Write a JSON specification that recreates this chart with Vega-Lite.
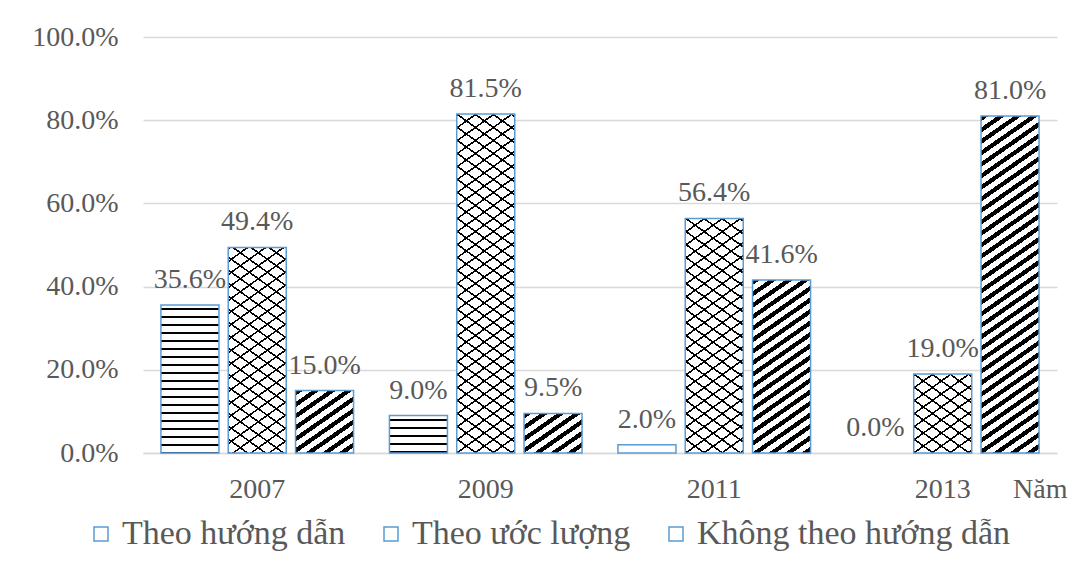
{
  "$schema": "https://vega.github.io/schema/vega-lite/v6.json",
  "width": 914,
  "height": 416,
  "autosize": "none",
  "padding": {"left": 143, "top": 37, "right": 28, "bottom": 119},
  "background": "#ffffff",
  "config": {"view": {"stroke": null}, "font": "Liberation Serif"},
  "params": [
    {"name": "hStops", "value": [
      {"offset":0.01974,"color":"#0000"},{"offset":0.01974,"color":"#000"},{"offset":0.03289,"color":"#000"},{"offset":0.03289,"color":"#0000"},
      {"offset":0.07237,"color":"#0000"},{"offset":0.07237,"color":"#000"},{"offset":0.08553,"color":"#000"},{"offset":0.08553,"color":"#0000"},
      {"offset":0.125,"color":"#0000"},{"offset":0.125,"color":"#000"},{"offset":0.13816,"color":"#000"},{"offset":0.13816,"color":"#0000"},
      {"offset":0.17763,"color":"#0000"},{"offset":0.17763,"color":"#000"},{"offset":0.19079,"color":"#000"},{"offset":0.19079,"color":"#0000"},
      {"offset":0.23026,"color":"#0000"},{"offset":0.23026,"color":"#000"},{"offset":0.24342,"color":"#000"},{"offset":0.24342,"color":"#0000"},
      {"offset":0.28289,"color":"#0000"},{"offset":0.28289,"color":"#000"},{"offset":0.29605,"color":"#000"},{"offset":0.29605,"color":"#0000"},
      {"offset":0.33553,"color":"#0000"},{"offset":0.33553,"color":"#000"},{"offset":0.34868,"color":"#000"},{"offset":0.34868,"color":"#0000"},
      {"offset":0.38816,"color":"#0000"},{"offset":0.38816,"color":"#000"},{"offset":0.40132,"color":"#000"},{"offset":0.40132,"color":"#0000"},
      {"offset":0.44079,"color":"#0000"},{"offset":0.44079,"color":"#000"},{"offset":0.45395,"color":"#000"},{"offset":0.45395,"color":"#0000"},
      {"offset":0.49342,"color":"#0000"},{"offset":0.49342,"color":"#000"},{"offset":0.50658,"color":"#000"},{"offset":0.50658,"color":"#0000"},
      {"offset":0.54605,"color":"#0000"},{"offset":0.54605,"color":"#000"},{"offset":0.55921,"color":"#000"},{"offset":0.55921,"color":"#0000"},
      {"offset":0.59868,"color":"#0000"},{"offset":0.59868,"color":"#000"},{"offset":0.61184,"color":"#000"},{"offset":0.61184,"color":"#0000"},
      {"offset":0.65132,"color":"#0000"},{"offset":0.65132,"color":"#000"},{"offset":0.66447,"color":"#000"},{"offset":0.66447,"color":"#0000"},
      {"offset":0.70395,"color":"#0000"},{"offset":0.70395,"color":"#000"},{"offset":0.71711,"color":"#000"},{"offset":0.71711,"color":"#0000"},
      {"offset":0.75658,"color":"#0000"},{"offset":0.75658,"color":"#000"},{"offset":0.76974,"color":"#000"},{"offset":0.76974,"color":"#0000"},
      {"offset":0.80921,"color":"#0000"},{"offset":0.80921,"color":"#000"},{"offset":0.82237,"color":"#000"},{"offset":0.82237,"color":"#0000"},
      {"offset":0.86184,"color":"#0000"},{"offset":0.86184,"color":"#000"},{"offset":0.875,"color":"#000"},{"offset":0.875,"color":"#0000"},
      {"offset":0.91447,"color":"#0000"},{"offset":0.91447,"color":"#000"},{"offset":0.92763,"color":"#000"},{"offset":0.92763,"color":"#0000"},
      {"offset":0.96711,"color":"#0000"},{"offset":0.96711,"color":"#000"},{"offset":0.98026,"color":"#000"},{"offset":0.98026,"color":"#0000"}
    ]},
    {"name": "dStops", "value": [
      {"offset":0,"color":"#000"},{"offset":0.01324,"color":"#000"},{"offset":0.01324,"color":"#0000"},{"offset":0.02941,"color":"#0000"},
      {"offset":0.02941,"color":"#000"},{"offset":0.04265,"color":"#000"},{"offset":0.04265,"color":"#0000"},{"offset":0.05882,"color":"#0000"},
      {"offset":0.05882,"color":"#000"},{"offset":0.07206,"color":"#000"},{"offset":0.07206,"color":"#0000"},{"offset":0.08824,"color":"#0000"},
      {"offset":0.08824,"color":"#000"},{"offset":0.10147,"color":"#000"},{"offset":0.10147,"color":"#0000"},{"offset":0.11765,"color":"#0000"},
      {"offset":0.11765,"color":"#000"},{"offset":0.13088,"color":"#000"},{"offset":0.13088,"color":"#0000"},{"offset":0.14706,"color":"#0000"},
      {"offset":0.14706,"color":"#000"},{"offset":0.16029,"color":"#000"},{"offset":0.16029,"color":"#0000"},{"offset":0.17647,"color":"#0000"},
      {"offset":0.17647,"color":"#000"},{"offset":0.18971,"color":"#000"},{"offset":0.18971,"color":"#0000"},{"offset":0.20588,"color":"#0000"},
      {"offset":0.20588,"color":"#000"},{"offset":0.21912,"color":"#000"},{"offset":0.21912,"color":"#0000"},{"offset":0.23529,"color":"#0000"},
      {"offset":0.23529,"color":"#000"},{"offset":0.24853,"color":"#000"},{"offset":0.24853,"color":"#0000"},{"offset":0.26471,"color":"#0000"},
      {"offset":0.26471,"color":"#000"},{"offset":0.27794,"color":"#000"},{"offset":0.27794,"color":"#0000"},{"offset":0.29412,"color":"#0000"},
      {"offset":0.29412,"color":"#000"},{"offset":0.30735,"color":"#000"},{"offset":0.30735,"color":"#0000"},{"offset":0.32353,"color":"#0000"},
      {"offset":0.32353,"color":"#000"},{"offset":0.33676,"color":"#000"},{"offset":0.33676,"color":"#0000"},{"offset":0.35294,"color":"#0000"},
      {"offset":0.35294,"color":"#000"},{"offset":0.36618,"color":"#000"},{"offset":0.36618,"color":"#0000"},{"offset":0.38235,"color":"#0000"},
      {"offset":0.38235,"color":"#000"},{"offset":0.39559,"color":"#000"},{"offset":0.39559,"color":"#0000"},{"offset":0.41176,"color":"#0000"},
      {"offset":0.41176,"color":"#000"},{"offset":0.425,"color":"#000"},{"offset":0.425,"color":"#0000"},{"offset":0.44118,"color":"#0000"},
      {"offset":0.44118,"color":"#000"},{"offset":0.45441,"color":"#000"},{"offset":0.45441,"color":"#0000"},{"offset":0.47059,"color":"#0000"},
      {"offset":0.47059,"color":"#000"},{"offset":0.48382,"color":"#000"},{"offset":0.48382,"color":"#0000"},{"offset":0.5,"color":"#0000"},
      {"offset":0.5,"color":"#000"},{"offset":0.51324,"color":"#000"},{"offset":0.51324,"color":"#0000"},{"offset":0.52941,"color":"#0000"},
      {"offset":0.52941,"color":"#000"},{"offset":0.54265,"color":"#000"},{"offset":0.54265,"color":"#0000"},{"offset":0.55882,"color":"#0000"},
      {"offset":0.55882,"color":"#000"},{"offset":0.57206,"color":"#000"},{"offset":0.57206,"color":"#0000"},{"offset":0.58824,"color":"#0000"},
      {"offset":0.58824,"color":"#000"},{"offset":0.60147,"color":"#000"},{"offset":0.60147,"color":"#0000"},{"offset":0.61765,"color":"#0000"},
      {"offset":0.61765,"color":"#000"},{"offset":0.63088,"color":"#000"},{"offset":0.63088,"color":"#0000"},{"offset":0.64706,"color":"#0000"},
      {"offset":0.64706,"color":"#000"},{"offset":0.66029,"color":"#000"},{"offset":0.66029,"color":"#0000"},{"offset":0.67647,"color":"#0000"},
      {"offset":0.67647,"color":"#000"},{"offset":0.68971,"color":"#000"},{"offset":0.68971,"color":"#0000"},{"offset":0.70588,"color":"#0000"},
      {"offset":0.70588,"color":"#000"},{"offset":0.71912,"color":"#000"},{"offset":0.71912,"color":"#0000"},{"offset":0.73529,"color":"#0000"},
      {"offset":0.73529,"color":"#000"},{"offset":0.74853,"color":"#000"},{"offset":0.74853,"color":"#0000"},{"offset":0.76471,"color":"#0000"},
      {"offset":0.76471,"color":"#000"},{"offset":0.77794,"color":"#000"},{"offset":0.77794,"color":"#0000"},{"offset":0.79412,"color":"#0000"},
      {"offset":0.79412,"color":"#000"},{"offset":0.80735,"color":"#000"},{"offset":0.80735,"color":"#0000"},{"offset":0.82353,"color":"#0000"},
      {"offset":0.82353,"color":"#000"},{"offset":0.83676,"color":"#000"},{"offset":0.83676,"color":"#0000"},{"offset":0.85294,"color":"#0000"},
      {"offset":0.85294,"color":"#000"},{"offset":0.86618,"color":"#000"},{"offset":0.86618,"color":"#0000"},{"offset":0.88235,"color":"#0000"},
      {"offset":0.88235,"color":"#000"},{"offset":0.89559,"color":"#000"},{"offset":0.89559,"color":"#0000"},{"offset":0.91176,"color":"#0000"},
      {"offset":0.91176,"color":"#000"},{"offset":0.925,"color":"#000"},{"offset":0.925,"color":"#0000"},{"offset":0.94118,"color":"#0000"},
      {"offset":0.94118,"color":"#000"},{"offset":0.95441,"color":"#000"},{"offset":0.95441,"color":"#0000"},{"offset":0.97059,"color":"#0000"},
      {"offset":0.97059,"color":"#000"},{"offset":0.98382,"color":"#000"},{"offset":0.98382,"color":"#0000"},{"offset":1,"color":"#0000"}
    ]},
    {"name": "wStops", "value": [
      {"offset":0,"color":"#000"},{"offset":0.005,"color":"#000"},{"offset":0.005,"color":"#0000"},{"offset":0.03333,"color":"#0000"},
      {"offset":0.03333,"color":"#000"},{"offset":0.03833,"color":"#000"},{"offset":0.03833,"color":"#0000"},{"offset":0.06667,"color":"#0000"},
      {"offset":0.06667,"color":"#000"},{"offset":0.07167,"color":"#000"},{"offset":0.07167,"color":"#0000"},{"offset":0.1,"color":"#0000"},
      {"offset":0.1,"color":"#000"},{"offset":0.105,"color":"#000"},{"offset":0.105,"color":"#0000"},{"offset":0.13333,"color":"#0000"},
      {"offset":0.13333,"color":"#000"},{"offset":0.13833,"color":"#000"},{"offset":0.13833,"color":"#0000"},{"offset":0.16667,"color":"#0000"},
      {"offset":0.16667,"color":"#000"},{"offset":0.17167,"color":"#000"},{"offset":0.17167,"color":"#0000"},{"offset":0.2,"color":"#0000"},
      {"offset":0.2,"color":"#000"},{"offset":0.205,"color":"#000"},{"offset":0.205,"color":"#0000"},{"offset":0.23333,"color":"#0000"},
      {"offset":0.23333,"color":"#000"},{"offset":0.23833,"color":"#000"},{"offset":0.23833,"color":"#0000"},{"offset":0.26667,"color":"#0000"},
      {"offset":0.26667,"color":"#000"},{"offset":0.27167,"color":"#000"},{"offset":0.27167,"color":"#0000"},{"offset":0.3,"color":"#0000"},
      {"offset":0.3,"color":"#000"},{"offset":0.305,"color":"#000"},{"offset":0.305,"color":"#0000"},{"offset":0.33333,"color":"#0000"},
      {"offset":0.33333,"color":"#000"},{"offset":0.33833,"color":"#000"},{"offset":0.33833,"color":"#0000"},{"offset":0.36667,"color":"#0000"},
      {"offset":0.36667,"color":"#000"},{"offset":0.37167,"color":"#000"},{"offset":0.37167,"color":"#0000"},{"offset":0.4,"color":"#0000"},
      {"offset":0.4,"color":"#000"},{"offset":0.405,"color":"#000"},{"offset":0.405,"color":"#0000"},{"offset":0.43333,"color":"#0000"},
      {"offset":0.43333,"color":"#000"},{"offset":0.43833,"color":"#000"},{"offset":0.43833,"color":"#0000"},{"offset":0.46667,"color":"#0000"},
      {"offset":0.46667,"color":"#000"},{"offset":0.47167,"color":"#000"},{"offset":0.47167,"color":"#0000"},{"offset":0.5,"color":"#0000"},
      {"offset":0.5,"color":"#000"},{"offset":0.505,"color":"#000"},{"offset":0.505,"color":"#0000"},{"offset":0.53333,"color":"#0000"},
      {"offset":0.53333,"color":"#000"},{"offset":0.53833,"color":"#000"},{"offset":0.53833,"color":"#0000"},{"offset":0.56667,"color":"#0000"},
      {"offset":0.56667,"color":"#000"},{"offset":0.57167,"color":"#000"},{"offset":0.57167,"color":"#0000"},{"offset":0.6,"color":"#0000"},
      {"offset":0.6,"color":"#000"},{"offset":0.605,"color":"#000"},{"offset":0.605,"color":"#0000"},{"offset":0.63333,"color":"#0000"},
      {"offset":0.63333,"color":"#000"},{"offset":0.63833,"color":"#000"},{"offset":0.63833,"color":"#0000"},{"offset":0.66667,"color":"#0000"},
      {"offset":0.66667,"color":"#000"},{"offset":0.67167,"color":"#000"},{"offset":0.67167,"color":"#0000"},{"offset":0.7,"color":"#0000"},
      {"offset":0.7,"color":"#000"},{"offset":0.705,"color":"#000"},{"offset":0.705,"color":"#0000"},{"offset":0.73333,"color":"#0000"},
      {"offset":0.73333,"color":"#000"},{"offset":0.73833,"color":"#000"},{"offset":0.73833,"color":"#0000"},{"offset":0.76667,"color":"#0000"},
      {"offset":0.76667,"color":"#000"},{"offset":0.77167,"color":"#000"},{"offset":0.77167,"color":"#0000"},{"offset":0.8,"color":"#0000"},
      {"offset":0.8,"color":"#000"},{"offset":0.805,"color":"#000"},{"offset":0.805,"color":"#0000"},{"offset":0.83333,"color":"#0000"},
      {"offset":0.83333,"color":"#000"},{"offset":0.83833,"color":"#000"},{"offset":0.83833,"color":"#0000"},{"offset":0.86667,"color":"#0000"},
      {"offset":0.86667,"color":"#000"},{"offset":0.87167,"color":"#000"},{"offset":0.87167,"color":"#0000"},{"offset":0.9,"color":"#0000"},
      {"offset":0.9,"color":"#000"},{"offset":0.905,"color":"#000"},{"offset":0.905,"color":"#0000"},{"offset":0.93333,"color":"#0000"},
      {"offset":0.93333,"color":"#000"},{"offset":0.93833,"color":"#000"},{"offset":0.93833,"color":"#0000"},{"offset":0.96667,"color":"#0000"},
      {"offset":0.96667,"color":"#000"},{"offset":0.97167,"color":"#000"},{"offset":0.97167,"color":"#0000"},{"offset":1,"color":"#0000"}
    ]}
  ],
  "data": {
    "values": [
      {"year": "2007", "s": "Theo hướng dẫn", "v": 0.356},
      {"year": "2007", "s": "Theo ước lượng", "v": 0.494},
      {"year": "2007", "s": "Không theo hướng dẫn", "v": 0.15},
      {"year": "2009", "s": "Theo hướng dẫn", "v": 0.09},
      {"year": "2009", "s": "Theo ước lượng", "v": 0.815},
      {"year": "2009", "s": "Không theo hướng dẫn", "v": 0.095},
      {"year": "2011", "s": "Theo hướng dẫn", "v": 0.02},
      {"year": "2011", "s": "Theo ước lượng", "v": 0.564},
      {"year": "2011", "s": "Không theo hướng dẫn", "v": 0.416},
      {"year": "2013", "s": "Theo hướng dẫn", "v": 0.0},
      {"year": "2013", "s": "Theo ước lượng", "v": 0.19},
      {"year": "2013", "s": "Không theo hướng dẫn", "v": 0.81}
    ]
  },
  "encoding": {
    "x": {
      "field": "year", "type": "nominal",
      "scale": {"paddingInner": 0.157, "paddingOuter": 0.0785},
      "axis": {
        "title": "Năm", "titleX": 924, "titleY": 44, "titleAlign": "right", "titleBaseline": "alphabetic",
        "titleFont": "Liberation Serif", "titleFontSize": 28, "titleFontWeight": "normal", "titleColor": "#595959",
        "labelFont": "Liberation Serif", "labelFontSize": 28, "labelColor": "#595959", "labelAngle": 0,
        "labelBaseline": "alphabetic", "labelPadding": 44, "ticks": false,
        "domainColor": "#d9d9d9", "domainWidth": 1.5, "grid": false
      }
    },
    "xOffset": {
      "field": "s", "type": "nominal",
      "sort": ["Theo hướng dẫn", "Theo ước lượng", "Không theo hướng dẫn"],
      "scale": {"paddingInner": 0.138, "paddingOuter": 0}
    },
    "y": {
      "field": "v", "type": "quantitative",
      "scale": {"domain": [0, 1]},
      "axis": {
        "title": null, "format": ".1%", "values": [0, 0.2, 0.4, 0.6, 0.8, 1],
        "labelFont": "Liberation Serif", "labelFontSize": 28, "labelColor": "#595959",
        "ticks": false, "domain": false, "labelPadding": 25,
        "gridColor": "#d9d9d9", "gridWidth": 1.5
      }
    }
  },
  "layer": [
    {
      "mark": {"type": "bar", "fill": "#ffffff", "strokeWidth": 0}
    },
    {
      "mark": {"type": "bar", "strokeWidth": 0},
      "encoding": {
        "fill": {
          "condition": [
            {"test": "datum.s == 'Theo hướng dẫn' && datum.year == '2007'", "value": {"expr": "{gradient: 'linear', x1: 1, y1: 0, x2: 1, y2: 1.02633, stops: hStops}"}},
            {"test": "datum.s == 'Theo hướng dẫn' && datum.year == '2009'", "value": {"expr": "{gradient: 'linear', x1: 1, y1: 0, x2: 1, y2: 4.06417, stops: hStops}"}},
            {"test": "datum.s == 'Theo ước lượng' && datum.year == '2007'", "value": {"expr": "{gradient: 'linear', x1: 0, y1: 0, x2: 0.37141, y2: 1.8221, stops: wStops}"}},
            {"test": "datum.s == 'Theo ước lượng' && datum.year == '2009'", "value": {"expr": "{gradient: 'linear', x1: 0, y1: 0, x2: 0.14002, y2: 1.13314, stops: wStops}"}},
            {"test": "datum.s == 'Theo ước lượng' && datum.year == '2011'", "value": {"expr": "{gradient: 'linear', x1: 0, y1: 0, x2: 0.28766, y2: 1.61105, stops: wStops}"}},
            {"test": "datum.s == 'Theo ước lượng' && datum.year == '2013'", "value": {"expr": "{gradient: 'linear', x1: 0, y1: 0, x2: 2.0432, y2: 3.85337, stops: wStops}"}},
            {"test": "datum.s == 'Không theo hướng dẫn' && datum.year == '2007'", "value": {"expr": "{gradient: 'linear', x1: 0, y1: 0, x2: 2.85932, y2: 4.41371, stops: dStops}"}},
            {"test": "datum.s == 'Không theo hướng dẫn' && datum.year == '2009'", "value": {"expr": "{gradient: 'linear', x1: 0, y1: 0, x2: 4.94793, y2: 4.83479, stops: dStops}"}},
            {"test": "datum.s == 'Không theo hướng dẫn' && datum.year == '2011'", "value": {"expr": "{gradient: 'linear', x1: 0, y1: 0, x2: 0.50022, y2: 2.14199, stops: dStops}"}},
            {"test": "datum.s == 'Không theo hướng dẫn' && datum.year == '2013'", "value": {"expr": "{gradient: 'linear', x1: 0, y1: 0, x2: 0.1372, y2: 1.14378, stops: dStops}"}}
          ],
          "value": "transparent"
        }
      }
    },
    {
      "mark": {"type": "bar", "strokeWidth": 1.5},
      "encoding": {
        "fill": {
          "condition": [
            {"test": "datum.s == 'Theo ước lượng' && datum.year == '2007'", "value": {"expr": "{gradient: 'linear', x1: 0, y1: 1, x2: 0.37141, y2: -0.8221, stops: wStops}"}},
            {"test": "datum.s == 'Theo ước lượng' && datum.year == '2009'", "value": {"expr": "{gradient: 'linear', x1: 0, y1: 1, x2: 0.14002, y2: -0.13314, stops: wStops}"}},
            {"test": "datum.s == 'Theo ước lượng' && datum.year == '2011'", "value": {"expr": "{gradient: 'linear', x1: 0, y1: 1, x2: 0.28766, y2: -0.61105, stops: wStops}"}},
            {"test": "datum.s == 'Theo ước lượng' && datum.year == '2013'", "value": {"expr": "{gradient: 'linear', x1: 0, y1: 1, x2: 2.0432, y2: -2.85337, stops: wStops}"}}
          ],
          "value": "transparent"
        },
        "stroke": {
          "field": "s", "type": "nominal",
          "sort": ["Theo hướng dẫn", "Theo ước lượng", "Không theo hướng dẫn"],
          "scale": {"range": ["#5b9bd5", "#5b9bd5", "#5b9bd5"]},
          "legend": {
            "orient": "none", "legendX": -59, "legendY": 480,
            "direction": "horizontal", "columns": 3, "title": null, "padding": 0,
            "symbolType": "square", "symbolSize": 196, "symbolStrokeWidth": 1.5,
            "symbolFillColor": "#ffffff",
            "labelFont": "Liberation Serif", "labelFontSize": 34, "labelColor": "#595959",
            "labelOffset": 4, "columnPadding": 28, "labelLimit": 0
          }
        },
        "strokeOpacity": {"condition": {"test": "datum.v == 0", "value": 0}, "value": 1}
      }
    },
    {
      "mark": {"type": "text", "font": "Liberation Serif", "fontSize": 28, "color": "#595959", "baseline": "alphabetic", "dy": -17},
      "encoding": {
        "text": {"field": "v", "type": "quantitative", "format": ".1%"}
      }
    }
  ]
}
